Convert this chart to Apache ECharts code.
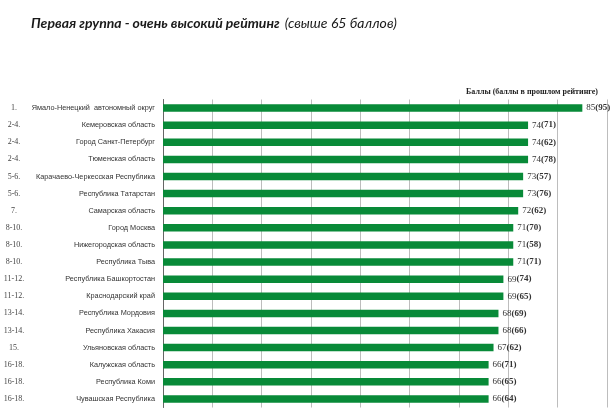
<!DOCTYPE html>
<html><head><meta charset="utf-8">
<script src="https://cdn.jsdelivr.net/npm/echarts@6/dist/echarts.min.js"></script>
<style>html,body{margin:0;padding:0;background:#fff}#c{width:610px;height:413px}</style>
</head><body><div id="c"></div>
<script>
const ranks = ['1.','2-4.','2-4.','2-4.','5-6.','5-6.','7.','8-10.','8-10.','8-10.','11-12.','11-12.','13-14.','13-14.','15.','16-18.','16-18.','16-18.'];
const regions = ['Ямало-Ненецкий  автономный округ','Кемеровская область','Город Санкт-Петербург','Тюменская область','Карачаево-Черкесская Республика','Республика Татарстан','Самарская область','Город Москва','Нижегородская область','Республика Тыва','Республика Башкортостан','Краснодарский край','Республика Мордовия','Республика Хакасия','Ульяновская область','Калужская область','Республика Коми','Чувашская Республика'];
const scores = [85,74,74,74,73,73,72,71,71,71,69,69,68,68,67,66,66,66];
const prevScores = [95,71,62,78,57,76,62,70,58,71,74,65,69,66,62,71,65,64];
const titleBold = 'Первая группа - очень высокий рейтинг';
const titleItalic = '(свыше 65 баллов)';
const unitNote = 'Баллы (баллы в прошлом рейтинге)';

const chart = echarts.init(document.getElementById('c'));
chart.setOption({
  animation: false,
  backgroundColor: '#fff',
  title: [{
    text: '{b|' + titleBold + '} {i|' + titleItalic + '}',
    left: 26, top: 9,
    textStyle: { rich: {
      b: { fontFamily: 'Lato', fontStyle: 'italic', fontWeight: 'bold', fontSize: 14, color: '#1a1a1a' },
      i: { fontFamily: 'Lato', fontStyle: 'italic', fontWeight: 'normal', fontSize: 14, color: '#1a1a1a' }
    }}
  }, {
    text: unitNote,
    right: 7, top: 83,
    textStyle: { fontFamily: 'Liberation Serif', fontWeight: 'bold', fontSize: 8, color: '#222' }
  }],
  grid: { left: 163, right: 3, top: 99.5, bottom: 5.5, containLabel: false },
  xAxis: {
    type: 'value', min: 0, max: 90, interval: 10,
    axisLabel: { show: false }, axisTick: { show: false }, axisLine: { show: false },
    splitLine: { show: true, lineStyle: { color: '#bdbdbd', width: 1 } }
  },
  yAxis: [{
    type: 'category', data: regions, inverse: true,
    axisLine: { show: true, lineStyle: { color: '#666', width: 1 } },
    axisTick: { show: false },
    axisLabel: { margin: 8, fontFamily: 'Liberation Sans', fontSize: 7.3, color: '#333' }
  }, {
    type: 'category', data: ranks, inverse: true, position: 'left',
    axisLine: { show: false }, axisTick: { show: false },
    axisLabel: { margin: 149, align: 'center', fontFamily: 'Liberation Serif', fontSize: 8, color: '#444' }
  }],
  series: [{
    type: 'bar', data: scores, yAxisIndex: 0, barWidth: 7.5,
    itemStyle: { color: '#088a38' },
    label: {
      show: true, position: 'right', distance: 4,
      formatter: p => '{a|' + scores[p.dataIndex] + '}{b|(' + prevScores[p.dataIndex] + ')}',
      rich: {
        a: { fontFamily: 'Liberation Serif', fontSize: 9, color: '#333' },
        b: { fontFamily: 'Liberation Serif', fontSize: 9, fontWeight: 'bold', color: '#333' }
      }
    }
  }]
});
</script></body></html>
